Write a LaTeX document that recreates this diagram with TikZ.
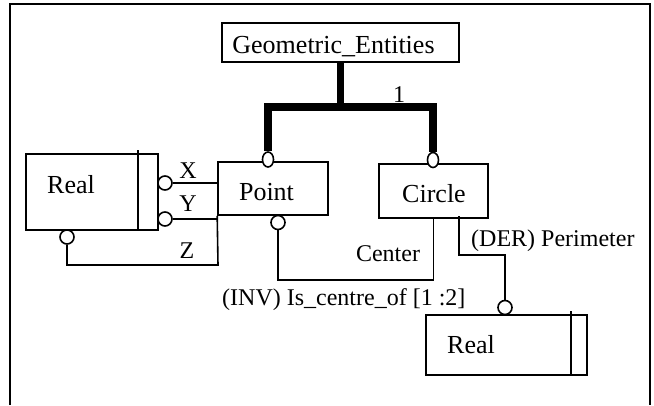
\documentclass[tikz,border=0pt]{standalone}
\usepackage{fontspec}
\setmainfont{Liberation Serif}
\usetikzlibrary{shapes.geometric}
\begin{document}
\begin{tikzpicture}[x=1pt,y=-1pt,
  ent/.style={draw, line width=1.6pt, rectangle, inner sep=0pt},
  nm/.style={font=\fontsize{26}{30}\selectfont, inner sep=0pt, anchor=base},
  lb/.style={font=\fontsize{24}{28}\selectfont, inner sep=0pt, anchor=base},
  rel/.style={line width=1.6pt},
  busline/.style={line width=7.5pt, line join=miter},
  endcirc/.style={circle, draw, fill=white, line width=1.6pt, minimum size=14pt, inner sep=0pt},
  oval/.style={ellipse, draw, fill=white, line width=1.6pt, minimum width=11pt, minimum height=15pt, inner sep=0pt}
]
\useasboundingbox (0,0) rectangle (654,405);
\draw[line width=2.4pt] (10,405) -- (10,4) -- (650,4) -- (650,405);

% entities
\node[ent, minimum width=237pt, minimum height=39pt] (geo) at (340.5,42.5) {};
\node[nm] (geot) at (333.5,53) {Geometric\_Entities};
\node[ent, minimum width=110pt, minimum height=53pt] (pt) at (273,188.5) {};
\node[nm] (ptt) at (266.5,200) {Point};
\node[ent, minimum width=109pt, minimum height=54pt] (ci) at (433.5,191) {};
\node[nm] (cit) at (434,202) {Circle};
\node[ent, minimum width=132pt, minimum height=76pt] (ra) at (92,192) {};
\node[nm] (rat) at (71,193) {Real};
\draw[rel] (138,150) -- (138,230);
\node[ent, minimum width=161pt, minimum height=60pt] (rb) at (506.5,345) {};
\node[nm] (rbt) at (471,353) {Real};
\draw[rel] (571,311) -- (571,375);

% supertype tree
\node[oval] (ovp) at (268,159.5) {};
\node[oval] (ovc) at (433,160) {};
\coordinate (busmid) at (340.5,107);
\draw[busline] (geo.south) -- (busmid);
\draw[busline] (ovp.north) -- (268,107) -- (433,107) -- (ovc.north);
\node[lb] (one) at (399,102) {1};

% attributes of Point
\node[endcirc] (cx) at (165,183) {};
\draw[rel] (cx.east) -- (cx.east -| pt.west);
\node[lb] (xl) at (188,178) {X};
\node[endcirc] (cy) at (165,219) {};
\draw[rel] (cy.east) -- (218,219);
\node[lb] (yl) at (188,211) {Y};
\node[endcirc] (cz) at (67,237) {};
\draw[rel] (cz.south) -- (67,265) -- (218,265) -- (pt.south west);
\node[lb] (zl) at (187,258) {Z};

% Center
\node[endcirc] (cc) at (278,222.5) {};
\draw[rel] (cc.south) -- (278,280) -| (ci.south);
\node[lb] (centl) at (388,261) {Center};
\node[lb, anchor=base west] (invl) at (222,305) {(INV) Is\_centre\_of [1 :2]};

% Perimeter
\node[endcirc] (cp) at (505,307.5) {};
\coordinate (pst) at (459,216);
\draw[rel] (pst) -- (459,255) -| (cp.north);
\node[lb, anchor=base west] (perl) at (471,246) {(DER) Perimeter};
\end{tikzpicture}
\end{document}
